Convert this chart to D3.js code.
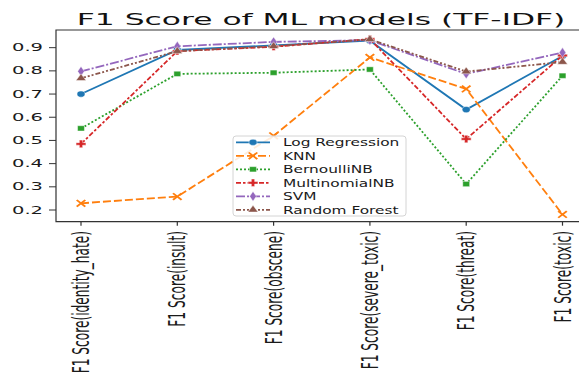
<!DOCTYPE html>
<html>
<head>
<meta charset="utf-8">
<script src="https://cdn.jsdelivr.net/npm/d3@7"></script>
<style>
  html, body { margin: 0; padding: 0; background: #fff; }
  svg { display: block; font-family: "DejaVu Sans", sans-serif; }
</style>
</head>
<body>
<svg id="chart" width="579" height="372"></svg>
<script>
// Categories (x axis) and tick values (y axis)
const categories = [
  "F1 Score(identity_hate)", "F1 Score(insult)", "F1 Score(obscene)",
  "F1 Score(severe_toxic)", "F1 Score(threat)", "F1 Score(toxic)"
];
const yTicks = [0.2, 0.3, 0.4, 0.5, 0.6, 0.7, 0.8, 0.9];

// F1 scores per model, in category order
const models = ["Log Regression", "KNN", "BernoulliNB", "MultinomialNB", "SVM", "Random Forest"];
const logRegression = [0.700, 0.890, 0.910, 0.930, 0.633, 0.864];
const knn           = [0.229, 0.258, 0.520, 0.858, 0.722, 0.181];
const bernoulliNB   = [0.552, 0.787, 0.792, 0.806, 0.312, 0.779];
const multinomialNB = [0.485, 0.885, 0.904, 0.937, 0.506, 0.866];
const svm           = [0.798, 0.906, 0.925, 0.932, 0.787, 0.879];
const randomForest  = [0.768, 0.885, 0.906, 0.936, 0.797, 0.838];
const seriesValues = [logRegression, knn, bernoulliNB, multinomialNB, svm, randomForest];

const colors  = ["#1f77b4", "#ff7f0e", "#2ca02c", "#d62728", "#9467bd", "#8c564b"];
const dashes  = [null, "8,3", "2,2", "5,2,2.5,2", "9,2,2,2", "5,2,2,2,2,2"];
const symbols = ["circle", "x", "square", "plus", "diamond", "triangle"];

const svg = d3.select("#chart");

// Plot frame
const plotLeft = 56, plotRight = 586, plotTop = 30, plotBottom = 221.7;
const x = d3.scalePoint().domain(categories).range([81, 562.5]);
const y = d3.scaleLinear().domain([0.1496, 0.9762]).range([plotBottom, plotTop]);

// Horizontal stretch applied to glyphs (text and markers)
const SX_TICK = 1.95, SX_TITLE = 1.9, SX_LEG = 1.45, SX_XLAB = 1.85, SX_MARK = 1.3;

// Title
svg.append("text")
  .attr("transform", `translate(${(plotLeft + plotRight) / 2},25) scale(${SX_TITLE},1)`)
  .attr("text-anchor", "middle")
  .attr("font-size", 16.5)
  .attr("fill", "#111")
  .text("F1 Score of ML models (TF-IDF)");

// Y axis ticks and labels
const gy = svg.append("g");
yTicks.forEach(t => {
  gy.append("line").attr("x1", plotLeft - 7).attr("x2", plotLeft)
    .attr("y1", y(t)).attr("y2", y(t)).attr("stroke", "#333").attr("stroke-width", 1);
  gy.append("text")
    .attr("transform", `translate(43,${y(t)}) scale(${SX_TICK},1)`)
    .attr("text-anchor", "end").attr("dy", "0.36em")
    .attr("font-size", 10).attr("fill", "#1a1a1a")
    .text(d3.format(".1f")(t));
});

// X axis ticks and rotated labels
const gx = svg.append("g");
categories.forEach(c => {
  gx.append("line").attr("x1", x(c)).attr("x2", x(c))
    .attr("y1", plotBottom).attr("y2", plotBottom + 4).attr("stroke", "#333").attr("stroke-width", 1.2);
  gx.append("text")
    .attr("transform", `translate(${x(c)},231) scale(${SX_XLAB},1) rotate(-90)`)
    .attr("text-anchor", "end").attr("dy", "0.36em")
    .attr("font-size", 12.2).attr("fill", "#1a1a1a")
    .text(c);
});

// Spines
svg.append("path")
  .attr("d", `M${plotRight},${plotTop}H${plotLeft}V${plotBottom}H${plotRight}`)
  .attr("fill", "none").attr("stroke", "#333").attr("stroke-width", 1.2);

// Marker drawing helper
const symType = {
  circle: d3.symbolCircle, x: d3.symbolX, square: d3.symbolSquare,
  plus: d3.symbolCross, diamond: d3.symbolDiamond, triangle: d3.symbolTriangle
};
const symSize = { circle: 30, x: 30, square: 28, plus: 32, diamond: 28, triangle: 26 };
function marker(g, cx, cy, i) {
  const s = symbols[i];
  const p = g.append("path")
    .attr("d", d3.symbol().type(symType[s]).size(symSize[s])())
    .attr("transform", `translate(${cx},${cy}) scale(${SX_MARK},1)` + (s === "diamond" ? " scale(0.9,1)" : ""));
  if (s === "x") {
    p.attr("fill", "none").attr("stroke", colors[i]).attr("stroke-width", 1.6);
  } else {
    p.attr("fill", colors[i]).attr("stroke", "#fff").attr("stroke-width", 0.4);
  }
}

// Series lines and markers
const line = d3.line().x((d, j) => x(categories[j])).y(d => y(d));
seriesValues.forEach((vals, i) => {
  const g = svg.append("g");
  g.append("path").attr("d", line(vals))
    .attr("fill", "none").attr("stroke", colors[i]).attr("stroke-width", 1.8)
    .attr("stroke-dasharray", dashes[i]);
  vals.forEach((v, j) => marker(g, x(categories[j]), y(v), i));
});

// Legend
const lg = svg.append("g");
lg.append("rect").attr("x", 233).attr("y", 136).attr("width", 173).attr("height", 80)
  .attr("rx", 3).attr("fill", "#fff").attr("fill-opacity", 0.85)
  .attr("stroke", "#d4d4d4").attr("stroke-width", 1);
models.forEach((m, i) => {
  const ry = 142.3 + i * 13.5;
  lg.append("line").attr("x1", 236).attr("x2", 270).attr("y1", ry).attr("y2", ry)
    .attr("stroke", colors[i]).attr("stroke-width", 1.8).attr("stroke-dasharray", dashes[i]);
  marker(lg, 253, ry, i);
  lg.append("text")
    .attr("transform", `translate(283,${ry}) scale(${SX_LEG},1)`)
    .attr("dy", "0.36em").attr("font-size", 10.6).attr("fill", "#1a1a1a")
    .text(m);
});
</script>
</body>
</html>
